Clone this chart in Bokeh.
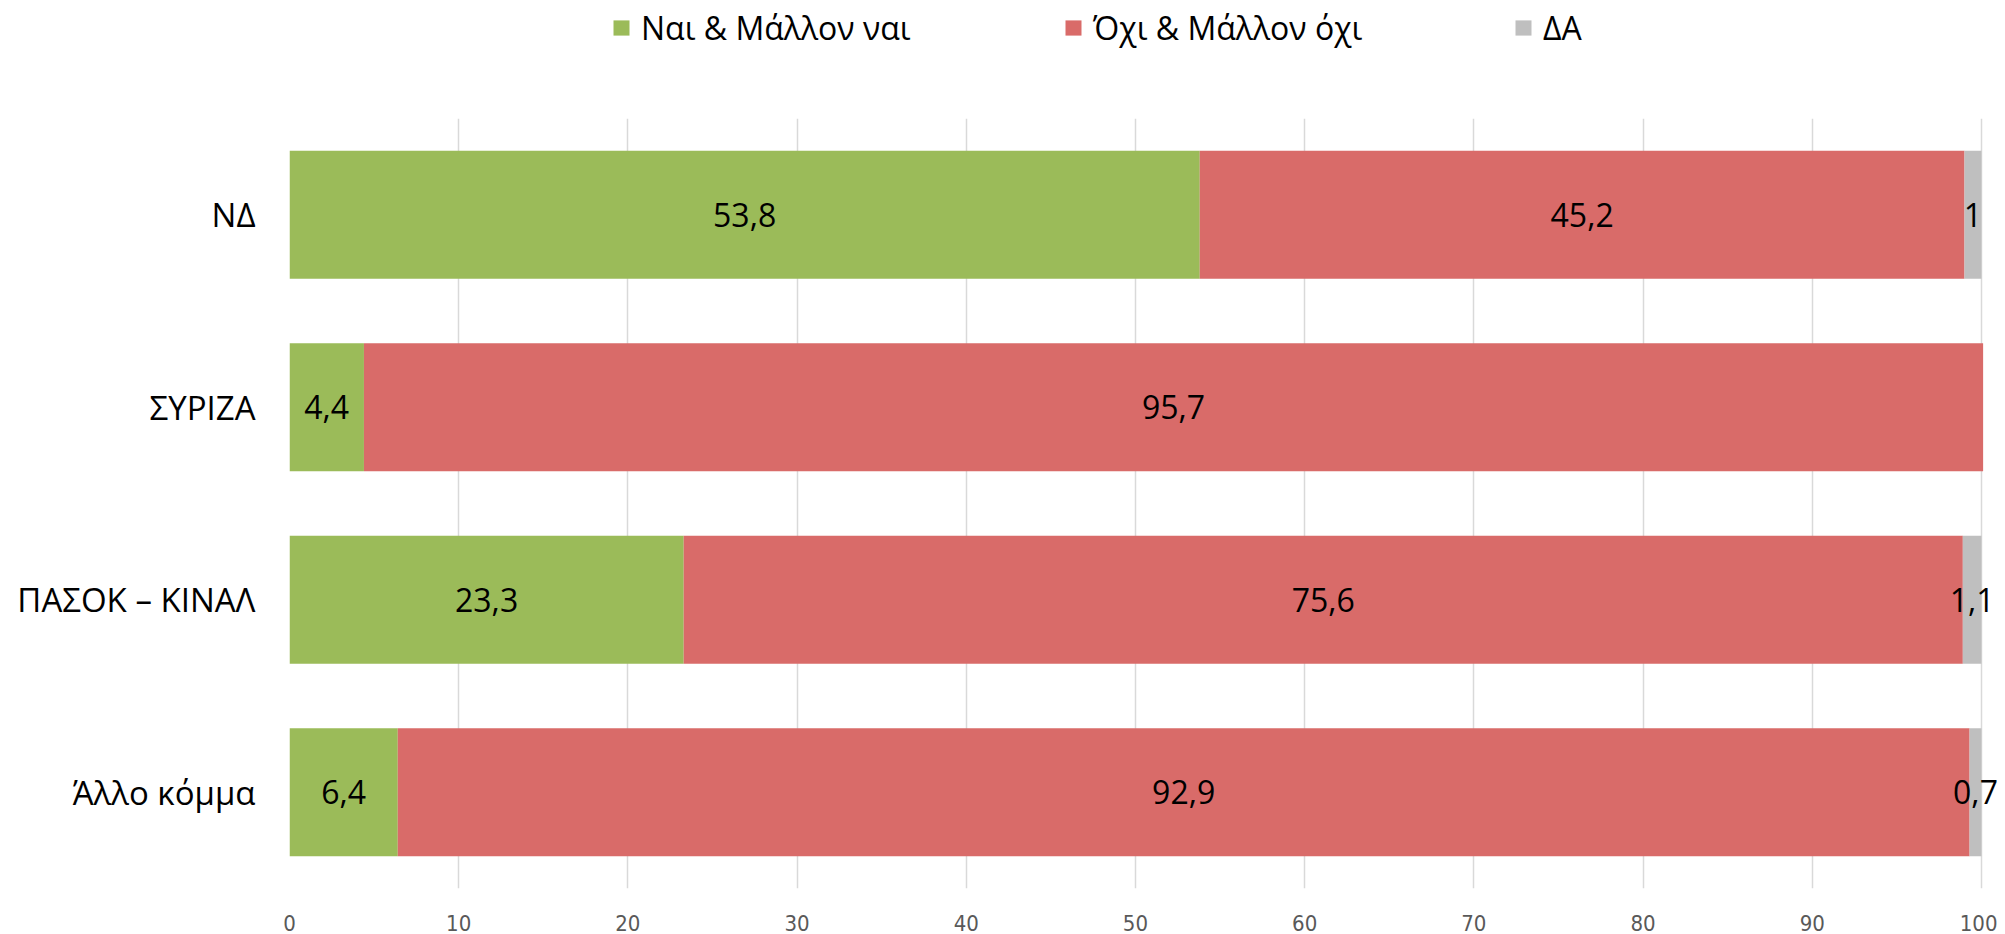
from bokeh.plotting import figure
from bokeh.layouts import column
from bokeh.models import (ColumnDataSource, FactorRange, Range1d, Legend, LegendItem,
                          LabelSet, FixedTicker)
from bokeh.core.properties import value
from bokeh.embed import file_html
from bokeh.resources import INLINE

# ---- data ----
parties = ["ΝΔ", "ΣΥΡΙΖΑ", "ΠΑΣΟΚ – ΚΙΝΑΛ", "Άλλο κόμμα"]
yes_vals = [53.8, 4.4, 23.3, 6.4]
no_vals = [45.2, 95.7, 75.6, 92.9]
dk_vals = [1.0, 0.0, 1.1, 0.7]
series_names = ["Ναι & Μάλλον ναι", "Όχι & Μάλλον όχι", "ΔΑ"]
x_ticks = [0, 10, 20, 30, 40, 50, 60, 70, 80, 90, 100]

colors = ["#9BBB59", "#D96B69", "#BFBFBF"]

def fmt(v):
    if v == 0:
        return ""
    s = ("%.1f" % v).rstrip("0").rstrip(".")
    return s.replace(".", ",")

W = 1997
LEG_H = 48
MAIN_H = 886

# ---- legend strip (its frame is aligned with the main chart's frame) ----
pl = figure(width=W, height=LEG_H, output_backend="svg", toolbar_location=None,
            x_range=Range1d(0, 1), y_range=Range1d(0, 1),
            x_axis_location=None, y_axis_location=None,
            min_border=0)
pl.outline_line_color = None
pl.xgrid.grid_line_color = None
pl.ygrid.grid_line_color = None

leg_x = [322, 774, 1224]
for name, col, lx in zip(series_names, colors, leg_x):
    # swatch renderer kept outside the visible range; only its legend glyph shows
    dummy = pl.hbar(y=[-10], left=[-10], right=[-9], height=0.5,
                    fill_color=col, line_color=None)
    leg = Legend(items=[LegendItem(label=name, renderers=[dummy])],
                 location=(lx, -1), orientation="horizontal",
                 glyph_width=20, glyph_height=19, label_standoff=10,
                 label_text_font="Open Sans", label_text_font_size="32px",
                 label_text_color="#000000", padding=0, margin=0, spacing=0,
                 border_line_color=None, background_fill_alpha=0)
    pl.add_layout(leg, "center")

# ---- main chart ----
p = figure(width=W, height=MAIN_H, output_backend="svg", toolbar_location=None,
           y_range=FactorRange(*list(reversed(parties))),
           x_range=Range1d(0, 100.95),
           min_border_left=289, min_border_right=0,
           min_border_top=70, min_border_bottom=46)
p.outline_line_color = None
p.background_fill_color = "white"
p.border_fill_color = "white"

series = [yes_vals, no_vals, dk_vals]
lefts = [0.0] * len(parties)
for vals, col in zip(series, colors):
    rights = [l + v for l, v in zip(lefts, vals)]
    src = ColumnDataSource(dict(y=parties, left=lefts, right=rights,
                                mid=[(l + r) / 2 for l, r in zip(lefts, rights)],
                                txt=[fmt(v) for v in vals]))
    p.hbar(y="y", left="left", right="right", height=0.665, source=src,
           fill_color=col, line_color=None)
    lbl = LabelSet(x="mid", y="y", text="txt", source=src,
                   text_align="center", text_baseline="middle",
                   text_font=value("Open Sans"), text_font_size=value("32px"),
                   text_color="#000000")
    p.add_layout(lbl)
    lefts = rights

# axes
p.xaxis.ticker = FixedTicker(ticks=x_ticks)
p.xaxis.axis_line_color = None
p.xaxis.major_tick_line_color = None
p.xaxis.minor_tick_line_color = None
p.xaxis.major_label_standoff = 20
p.xaxis.major_label_text_font = "DejaVu Sans Condensed"
p.xaxis.major_label_text_font_size = "22px"
p.xaxis.major_label_text_color = "#595959"

p.yaxis.axis_line_color = None
p.yaxis.major_tick_line_color = None
p.yaxis.minor_tick_line_color = None
p.yaxis.major_label_standoff = 28
p.yaxis.major_label_text_font = "Open Sans"
p.yaxis.major_label_text_font_size = "33px"
p.yaxis.major_label_text_color = "#000000"

p.xgrid.grid_line_color = "#D9D9D9"
p.xgrid.grid_line_width = 1.5
p.ygrid.grid_line_color = None

layout = column(pl, p, spacing=0)
open("out.html", "w").write(file_html(layout, INLINE))
